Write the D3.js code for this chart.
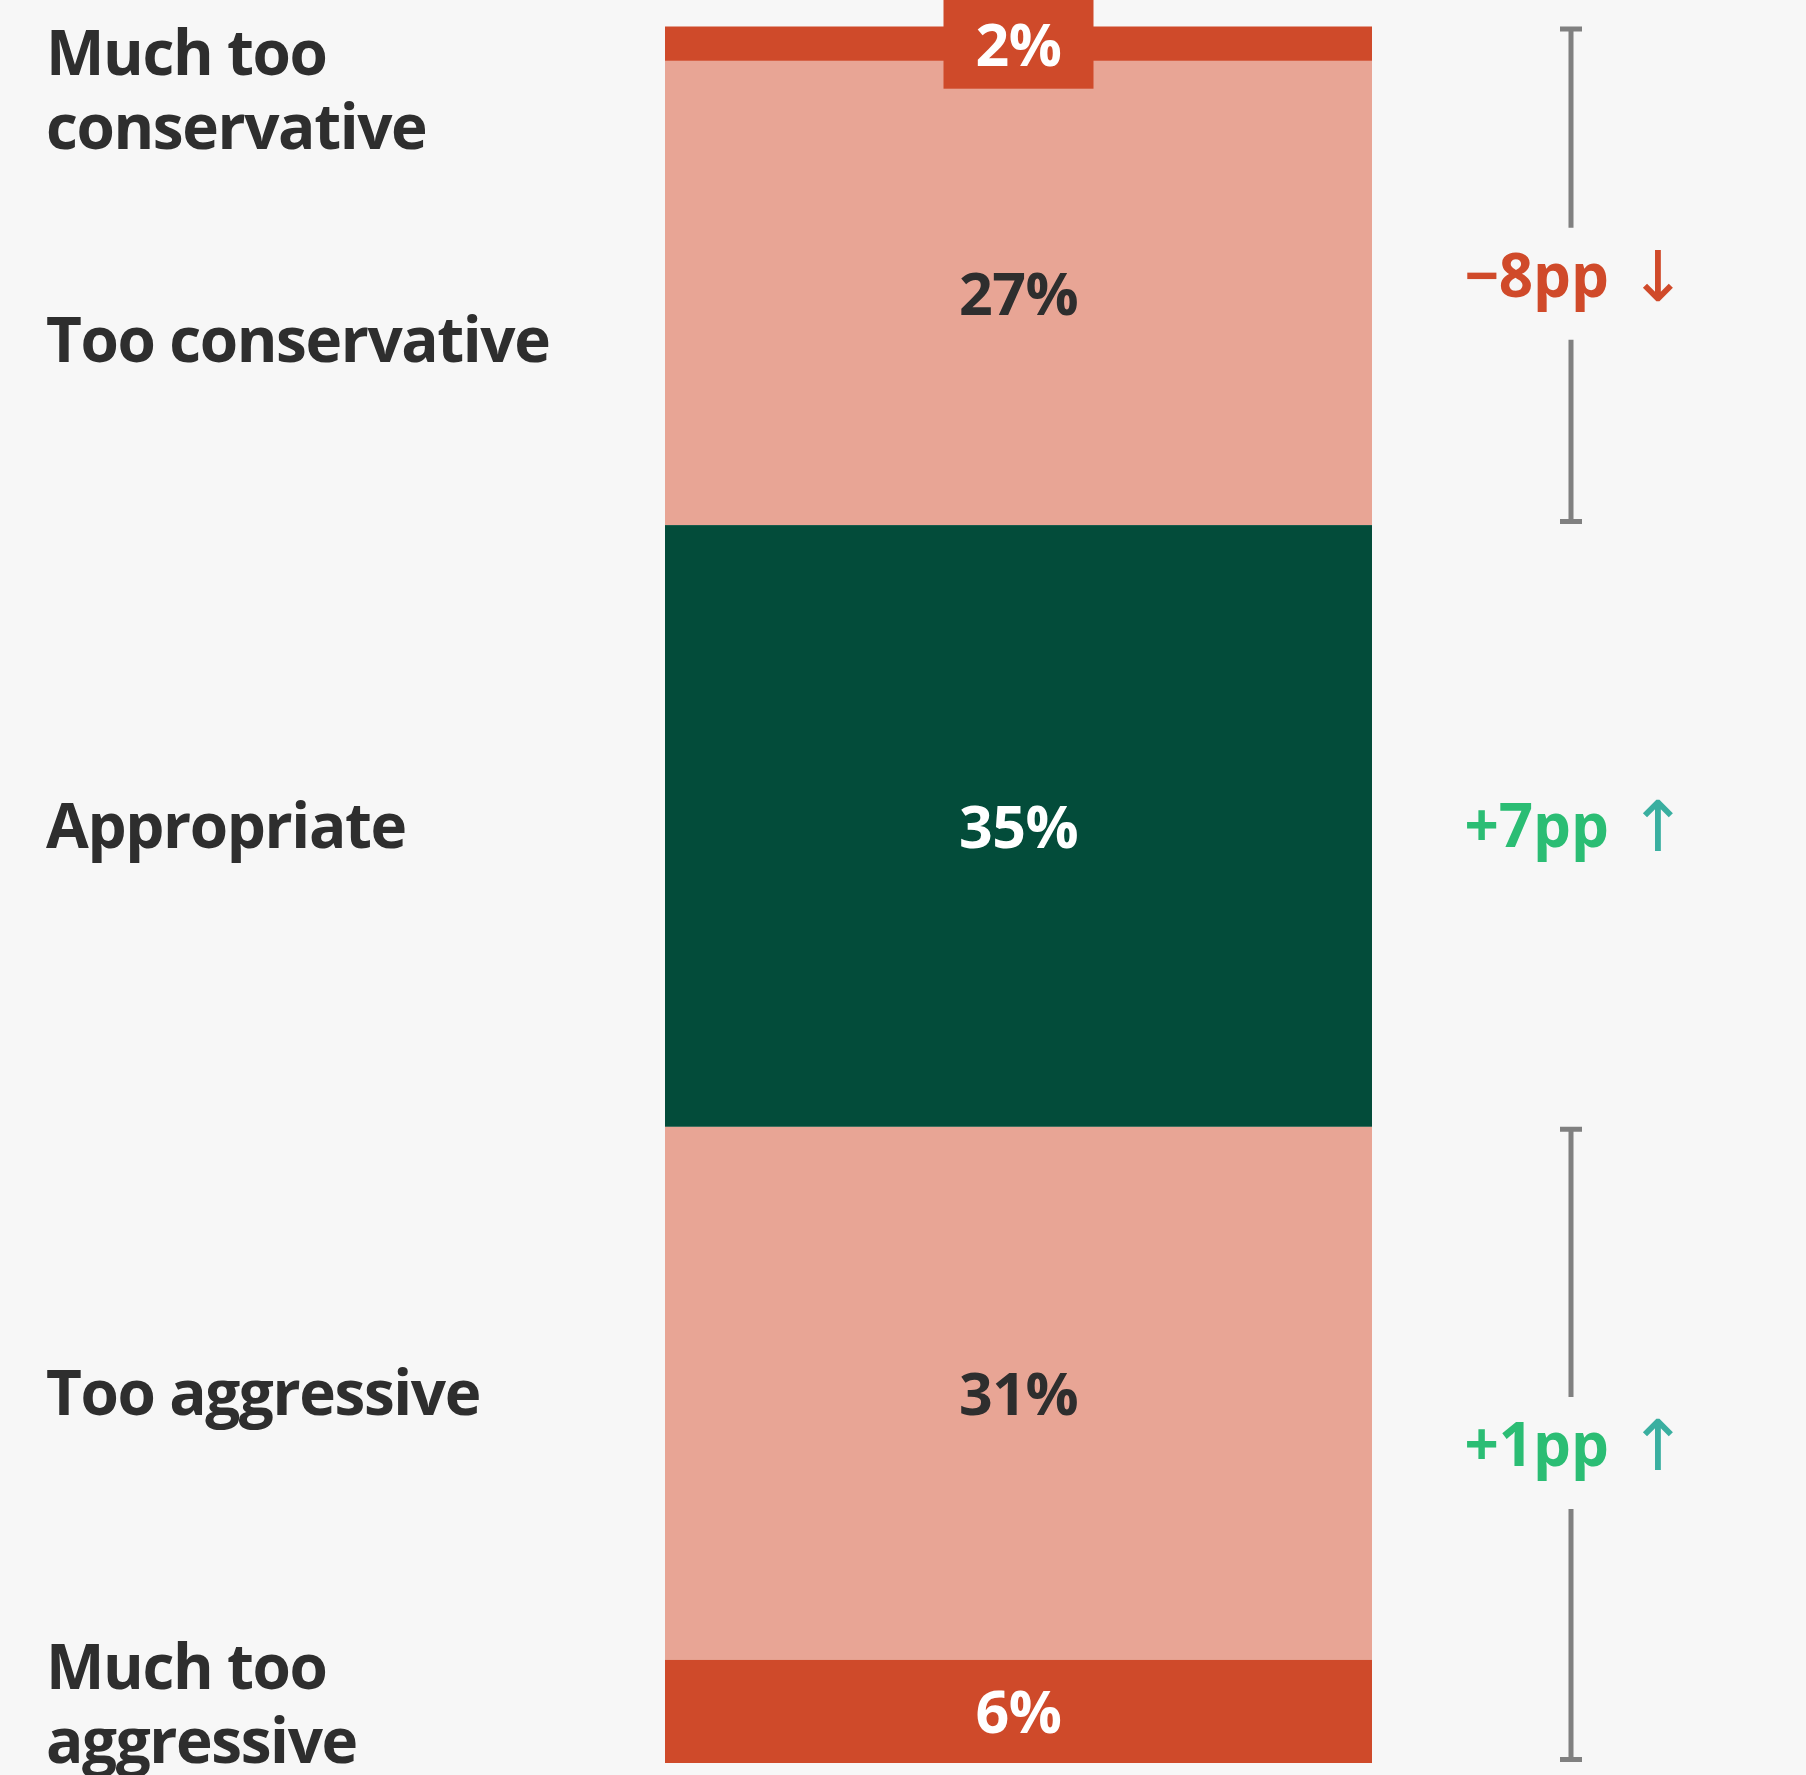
<!DOCTYPE html>
<html>
<head>
<meta charset="utf-8">
<script src="https://cdn.jsdelivr.net/npm/d3@7"></script>
<style>
  html, body { margin: 0; padding: 0; background: #f7f7f7; }
  svg { display: block; }
</style>
</head>
<body>
<div id="chart"></div>
<script>
// ---- data ----
const categories = ["Much too conservative", "Too conservative", "Appropriate", "Too aggressive", "Much too aggressive"];
const categoryLines = [["Much too", "conservative"], ["Too conservative"], ["Appropriate"], ["Too aggressive"], ["Much too", "aggressive"]];
const shares = [2, 27, 35, 31, 6];
const shareLabels = ["2%", "27%", "35%", "31%", "6%"];
const changeLabels = ["\u22128pp", "+7pp", "+1pp"];
const changeArrows = ["\u2193", "\u2191", "\u2191"];
const changeFirst = [0, 2, 3];
const changeLast = [1, 2, 4];
const changeBracket = [true, false, true];

// ---- layout / style ----
const W = 1806, H = 1775;
const barX0 = 665, barX1 = 1372;
const barTop = 26.5, barBottom = 1763;
const bracketX = 1571;
const labelX = 46;
const catFont = 62, catLine = 74;
const labelNudge = [46, 47, 0, 0, -8];
const fillFor = ["#cf4a2a", "#e8a595", "#034c3a", "#e8a595", "#cf4a2a"];
const textFor = ["#ffffff", "#2e2e2e", "#ffffff", "#2e2e2e", "#ffffff"];
const changeColor = ["#d04a2a", "#2bbd74", "#2bbd74"];
const arrowColor = ["#d04a2a", "#3aafa0", "#3aafa0"];

const svg = d3.select("#chart").append("svg")
  .attr("width", W).attr("height", H)
  .style("font-family", "'Open Sans', 'Noto Sans', sans-serif");

svg.append("rect").attr("width", W).attr("height", H).attr("fill", "#f7f7f7");

const total = d3.sum(shares);
const y = d3.scaleLinear().domain([0, total]).range([barTop, barBottom]);
const cum = d3.cumsum(shares);
const segs = shares.map((v, i) => ({
  i, v, y0: y(cum[i] - v), y1: y(cum[i])
}));

// bars
svg.append("g").selectAll("rect").data(segs).join("rect")
  .attr("x", barX0).attr("width", barX1 - barX0)
  .attr("y", d => d.y0).attr("height", d => d.y1 - d.y0)
  .attr("fill", d => fillFor[d.i]);

// value labels
const valFont = 59;
const vg = svg.append("g");
segs.forEach(d => {
  const cy = (d.y0 + d.y1) / 2;
  const cx = (barX0 + barX1) / 2;
  if (d.y1 - d.y0 < 60) {
    vg.append("rect")
      .attr("x", cx - 75).attr("width", 150)
      .attr("y", cy - 45).attr("height", 90)
      .attr("fill", fillFor[d.i]);
  }
  vg.append("text")
    .attr("x", cx).attr("y", cy + 0.37 * valFont)
    .attr("text-anchor", "middle")
    .attr("font-size", valFont).attr("font-weight", 700)
    .attr("letter-spacing", -0.5)
    .attr("fill", textFor[d.i])
    .text(shareLabels[d.i]);
});

// category labels
const cg = svg.append("g");
categoryLines.forEach((lines, i) => {
  const d = segs[i];
  const cy = (d.y0 + d.y1) / 2 + labelNudge[i];
  const n = lines.length;
  const firstBase = cy + 0.357 * catFont - (n - 1) * catLine / 2;
  lines.forEach((ln, k) => {
    cg.append("text")
      .attr("x", labelX).attr("y", firstBase + k * catLine)
      .attr("font-size", catFont).attr("font-weight", 700)
      .attr("letter-spacing", -1.4)
      .attr("fill", "#2e2e2e")
      .text(ln);
  });
});

// change annotations
const chFont = 60;
const gap = 56, gapShift = 8;
const ag = svg.append("g");
changeLabels.forEach((lab, j) => {
  const top = y(cum[changeFirst[j]] - shares[changeFirst[j]]);
  const bot = y(cum[changeLast[j]]);
  const mid = (top + bot) / 2;
  if (changeBracket[j]) {
    const t0 = top + 2.5, b0 = bot - 3.5;
    const p = d3.path();
    p.moveTo(bracketX - 11, t0); p.lineTo(bracketX + 11, t0);
    p.moveTo(bracketX, t0); p.lineTo(bracketX, mid + gapShift - gap);
    p.moveTo(bracketX, mid + gapShift + gap); p.lineTo(bracketX, b0);
    p.moveTo(bracketX - 11, b0); p.lineTo(bracketX + 11, b0);
    ag.append("path").attr("d", p.toString())
      .attr("stroke", "#808080").attr("stroke-width", 5).attr("fill", "none");
  }
  ag.append("text")
    .attr("x", bracketX + 38).attr("y", mid + 0.357 * chFont)
    .attr("text-anchor", "end")
    .attr("font-size", chFont).attr("font-weight", 700)
    .attr("fill", changeColor[j])
    .text(lab);
  ag.append("text")
    .attr("x", bracketX + 87).attr("y", mid + 0.42 * chFont)
    .attr("text-anchor", "middle")
    .style("font-family", "'Noto Sans', 'DejaVu Sans', sans-serif")
    .attr("font-size", 70).attr("font-weight", 400)
    .attr("fill", arrowColor[j])
    .text(changeArrows[j]);
});
</script>
</body>
</html>
